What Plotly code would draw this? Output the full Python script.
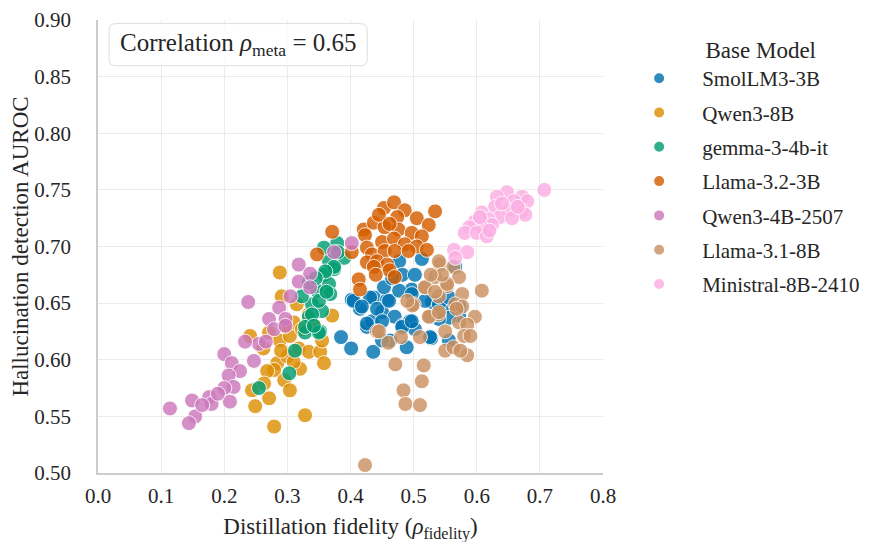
import plotly.graph_objects as go

models = ["SmolLM3-3B", "Qwen3-8B", "gemma-3-4b-it", "Llama-3.2-3B",
          "Qwen3-4B-2507", "Llama-3.1-8B", "Ministral-8B-2410"]
colors = ["#0173b2", "#de8f05", "#029e73", "#d55e00", "#cc78bc", "#ca9161", "#fbafe4"]

smol_x = [0.385, 0.401, 0.436, 0.489, 0.528, 0.556, 0.463, 0.450, 0.426, 0.434, 0.415, 0.402,
          0.437, 0.458, 0.450, 0.470, 0.482, 0.494, 0.502, 0.497, 0.529, 0.550, 0.572, 0.477,
          0.513, 0.482, 0.502, 0.453, 0.431, 0.405, 0.418, 0.442, 0.461, 0.477, 0.497, 0.518,
          0.540, 0.556, 0.566, 0.572, 0.426, 0.450, 0.482, 0.497, 0.526, 0.556, 0.540, 0.466]
smol_y = [0.620, 0.610, 0.607, 0.611, 0.619, 0.617, 0.617, 0.617, 0.629, 0.634, 0.645, 0.653,
          0.655, 0.653, 0.642, 0.638, 0.630, 0.634, 0.627, 0.662, 0.651, 0.647, 0.639, 0.687,
          0.689, 0.675, 0.675, 0.664, 0.655, 0.652, 0.647, 0.645, 0.652, 0.661, 0.658, 0.652,
          0.649, 0.655, 0.682, 0.647, 0.632, 0.634, 0.629, 0.634, 0.620, 0.637, 0.636, 0.672]

qwen8_x = [0.288, 0.291, 0.315, 0.334, 0.371, 0.241, 0.271, 0.288, 0.304, 0.318, 0.334, 0.352,
           0.358, 0.284, 0.279, 0.295, 0.320, 0.304, 0.268, 0.263, 0.244, 0.271, 0.249, 0.328,
           0.279, 0.310, 0.323, 0.343, 0.355, 0.300, 0.290, 0.296, 0.262, 0.310]
qwen8_y = [0.677, 0.656, 0.649, 0.640, 0.639, 0.621, 0.624, 0.617, 0.621, 0.610, 0.607, 0.607,
           0.597, 0.597, 0.591, 0.582, 0.592, 0.573, 0.590, 0.579, 0.573, 0.566, 0.559, 0.551,
           0.541, 0.633, 0.627, 0.630, 0.617, 0.603, 0.608, 0.630, 0.610, 0.598]

gemma_x = [0.379, 0.390, 0.366, 0.374, 0.358, 0.366, 0.347, 0.368, 0.339, 0.355, 0.334, 0.352,
           0.328, 0.358, 0.374, 0.360, 0.334, 0.323, 0.350, 0.339, 0.328, 0.350, 0.312, 0.303,
           0.255, 0.345, 0.380, 0.362, 0.342]
gemma_y = [0.703, 0.690, 0.687, 0.680, 0.675, 0.667, 0.661, 0.658, 0.649, 0.643, 0.638, 0.625,
           0.624, 0.699, 0.682, 0.678, 0.668, 0.656, 0.652, 0.640, 0.629, 0.624, 0.608, 0.588,
           0.575, 0.672, 0.695, 0.660, 0.630]

llama32_x = [0.453, 0.469, 0.486, 0.534, 0.505, 0.524, 0.474, 0.421, 0.437, 0.454, 0.476, 0.497,
             0.513, 0.423, 0.450, 0.469, 0.486, 0.505, 0.521, 0.426, 0.434, 0.454, 0.470, 0.492,
             0.426, 0.442, 0.458, 0.437, 0.462, 0.470, 0.413, 0.415, 0.371, 0.347, 0.402, 0.445,
             0.462, 0.440]
llama32_y = [0.734, 0.739, 0.732, 0.731, 0.725, 0.719, 0.726, 0.715, 0.721, 0.717, 0.715, 0.712,
             0.709, 0.710, 0.704, 0.707, 0.702, 0.700, 0.697, 0.699, 0.693, 0.696, 0.696, 0.696,
             0.686, 0.687, 0.684, 0.682, 0.679, 0.673, 0.671, 0.662, 0.713, 0.693, 0.695, 0.728,
             0.720, 0.675]

qwen4_x = [0.318, 0.336, 0.318, 0.336, 0.238, 0.287, 0.271, 0.297, 0.279, 0.255, 0.233, 0.297,
           0.200, 0.212, 0.225, 0.247, 0.207, 0.215, 0.200, 0.209, 0.176, 0.149, 0.180, 0.154,
           0.144, 0.114, 0.402, 0.374, 0.305, 0.266, 0.165, 0.190]
qwen4_y = [0.684, 0.676, 0.669, 0.664, 0.651, 0.646, 0.636, 0.636, 0.627, 0.614, 0.616, 0.630,
           0.605, 0.597, 0.590, 0.599, 0.586, 0.576, 0.575, 0.563, 0.567, 0.564, 0.561, 0.550,
           0.544, 0.557, 0.703, 0.695, 0.656, 0.616, 0.560, 0.570]

llama31_x = [0.542, 0.563, 0.608, 0.534, 0.572, 0.518, 0.553, 0.577, 0.500, 0.540, 0.566, 0.577,
             0.597, 0.526, 0.540, 0.572, 0.585, 0.550, 0.510, 0.580, 0.590, 0.550, 0.563, 0.585,
             0.574, 0.516, 0.513, 0.484, 0.487, 0.510, 0.471, 0.423, 0.442, 0.518, 0.534, 0.553,
             0.498, 0.524, 0.540, 0.568, 0.540, 0.545, 0.527, 0.445, 0.460, 0.480, 0.490]
llama31_y = [0.684, 0.682, 0.661, 0.673, 0.673, 0.664, 0.665, 0.658, 0.649, 0.656, 0.649, 0.647,
             0.638, 0.638, 0.640, 0.633, 0.631, 0.625, 0.620, 0.621, 0.621, 0.608, 0.611, 0.604,
             0.608, 0.595, 0.581, 0.573, 0.561, 0.560, 0.596, 0.507, 0.625, 0.664, 0.660, 0.667,
             0.648, 0.638, 0.642, 0.645, 0.687, 0.675, 0.675, 0.625, 0.615, 0.620, 0.652]

ministral_x = [0.707, 0.648, 0.632, 0.672, 0.680, 0.659, 0.629, 0.651, 0.672, 0.677, 0.637, 0.656,
               0.608, 0.619, 0.624, 0.597, 0.608, 0.588, 0.581, 0.600, 0.616, 0.564, 0.585, 0.566,
               0.640, 0.665, 0.605, 0.620]
ministral_y = [0.750, 0.748, 0.744, 0.744, 0.740, 0.740, 0.735, 0.732, 0.731, 0.728, 0.726, 0.725,
               0.730, 0.724, 0.719, 0.722, 0.717, 0.717, 0.712, 0.712, 0.709, 0.697, 0.695, 0.690,
               0.738, 0.735, 0.726, 0.714]

series_x = [smol_x, qwen8_x, gemma_x, llama32_x, qwen4_x, llama31_x, ministral_x]
series_y = [smol_y, qwen8_y, gemma_y, llama32_y, qwen4_y, llama31_y, ministral_y]

x_ticks = [0.0, 0.1, 0.2, 0.3, 0.4, 0.5, 0.6, 0.7, 0.8]
y_ticks = [0.50, 0.55, 0.60, 0.65, 0.70, 0.75, 0.80, 0.85, 0.90]

FONT = "Liberation Serif"
TXT = "#262626"

# rounded box for the correlation label (paper coordinates)
bx0, bx1, by0, by1 = 0.022, 0.533, 0.899, 0.992
rx, ry = 0.013, 0.015
box_path = (f"M {bx0+rx},{by1} L {bx1-rx},{by1} Q {bx1},{by1} {bx1},{by1-ry} "
            f"L {bx1},{by0+ry} Q {bx1},{by0} {bx1-rx},{by0} L {bx0+rx},{by0} "
            f"Q {bx0},{by0} {bx0},{by0+ry} L {bx0},{by1-ry} Q {bx0},{by1} {bx0+rx},{by1} Z")

fig = go.Figure()
for name, col, xs, ys in zip(models, colors, series_x, series_y):
    fig.add_trace(go.Scatter(
        x=xs, y=ys, mode="markers", name=name, legendgroup=name,
        marker=dict(size=15, color=col, opacity=0.82,
                    line=dict(color="white", width=1)),
    ))

fig.update_layout(
    width=879, height=535,
    margin=dict(l=90, r=284, t=12, b=70, autoexpand=False),
    paper_bgcolor="white", plot_bgcolor="white",
    font=dict(family=FONT, size=21, color=TXT),
    showlegend=True,
    legend=dict(
        title=dict(text="&nbsp;" * 7 + "Base Model", side="top center",
                   font=dict(family=FONT, size=23, color=TXT)),
        x=1.026, y=0.982, xanchor="left", yanchor="top",
        font=dict(family=FONT, size=21, color=TXT), tracegroupgap=4,
        bgcolor="rgba(0,0,0,0)", itemsizing="constant", itemwidth=76,
    ),
    xaxis=dict(
        range=[0, 0.8], tickvals=x_ticks, ticktext=[f"{v:.1f}" for v in x_ticks],
        showgrid=True, gridcolor="#ebebeb", gridwidth=1, zeroline=False,
        showline=True, linecolor="#cccccc", linewidth=1.5, ticks="", automargin=False,
        ticklabelstandoff=3, ticklabeloverflow="allow",
        title=dict(text="Distillation fidelity (<i>ρ</i><sub>fidelity</sub>)",
                   font=dict(family=FONT, size=23, color=TXT)),
        tickfont=dict(family=FONT, size=21, color=TXT),
    ),
    yaxis=dict(
        range=[0.5, 0.9], tickvals=y_ticks, ticktext=[f"{v:.2f}" for v in y_ticks],
        showgrid=True, gridcolor="#ebebeb", gridwidth=1, zeroline=False,
        showline=True, linecolor="#cccccc", linewidth=1.5, ticks="", automargin=False,
        ticklabelstandoff=21, ticklabeloverflow="allow",
        title=dict(text="Hallucination detection AUROC", standoff=1,
                   font=dict(family=FONT, size=23, color=TXT)),
        tickfont=dict(family=FONT, size=21, color=TXT),
    ),
    shapes=[dict(type="path", xref="paper", yref="paper", path=box_path,
                 line=dict(color="#dddddd", width=1), fillcolor="rgba(255,255,255,0.85)",
                 layer="above")],
    annotations=[dict(
        xref="paper", yref="paper", x=(bx0 + bx1) / 2, y=(by0 + by1) / 2,
        xanchor="center", yanchor="middle",
        text="Correlation <i>ρ</i><sub>meta</sub> = 0.65", showarrow=False,
        font=dict(family=FONT, size=25, color=TXT),
    )],
)

fig.write_html("out.html")
